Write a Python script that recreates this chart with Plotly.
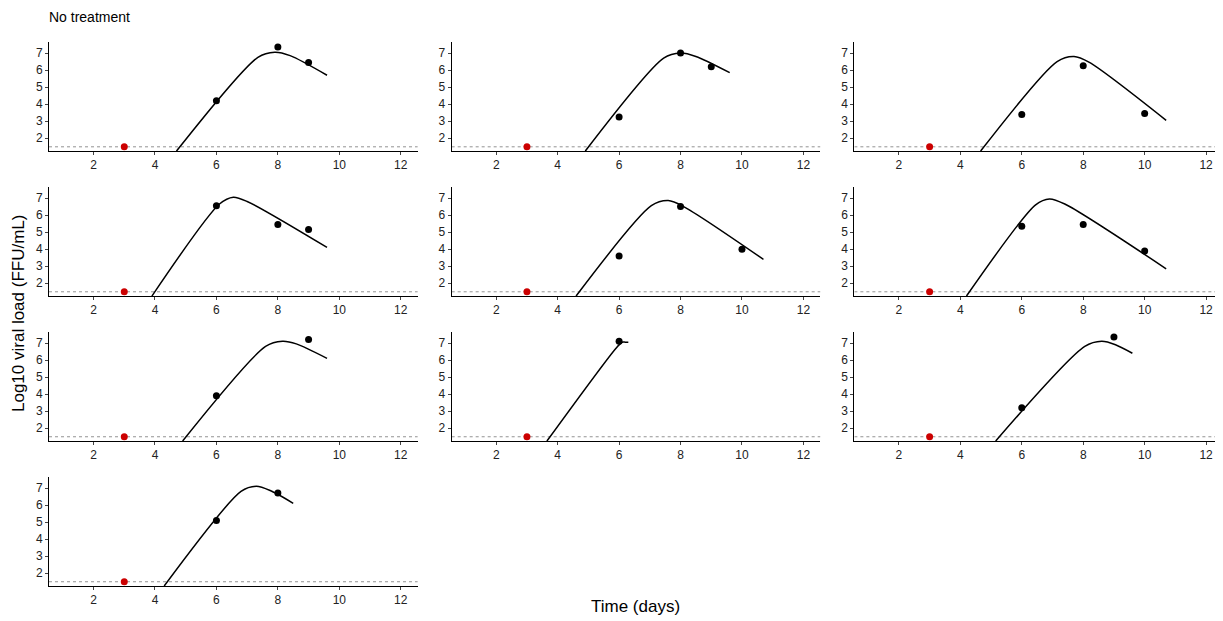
import plotly.graph_objects as go
from plotly.subplots import make_subplots

# observed data per animal (day, log10 load)
obs_x = [[6, 8, 9], [6, 8, 9], [6, 8, 10], [6, 8, 9], [6, 8, 10],
         [6, 8, 10], [6, 9], [6], [6, 9], [6, 8]]
obs_y = [[4.2, 7.35, 6.45], [3.25, 7.0, 6.2], [3.4, 6.25, 3.45], [6.55, 5.45, 5.15],
         [3.6, 6.5, 4.0], [5.35, 5.45, 3.9], [3.9, 7.2], [7.1], [3.2, 7.35], [5.1, 6.7]]
# censored (below detection) point
cens_x = 3
lod = 1.5

# fitted curves: start, pre-peak, peak, post-peak, end
fit_x = [[4.7, 7.35, 7.9, 8.4, 9.6], [4.9, 7.45, 8.0, 8.5, 9.6], [4.66, 7.15, 7.7, 8.2, 10.7],
         [3.9, 6.1, 6.55, 7.0, 9.6], [4.6, 7.05, 7.6, 8.1, 10.7], [4.2, 6.45, 6.9, 7.4, 10.7],
         [4.9, 7.6, 8.15, 8.6, 9.6], [3.65, 5.9, 6.1, 6.2, 6.3], [5.15, 8.05, 8.6, 9.05, 9.6],
         [4.3, 6.8, 7.3, 7.75, 8.5]]
fit_y = [[1.25, 6.75, 7.05, 6.85, 5.7], [1.25, 6.7, 7.0, 6.8, 5.85], [1.25, 6.5, 6.8, 6.45, 3.05],
         [1.25, 6.65, 7.05, 6.8, 4.1], [1.25, 6.55, 6.85, 6.5, 3.4], [1.25, 6.6, 6.95, 6.65, 2.85],
         [1.25, 6.8, 7.1, 6.95, 6.1], [1.25, 6.7, 7.05, 7.05, 7.05], [1.25, 6.8, 7.1, 6.9, 6.4],
         [1.25, 6.8, 7.1, 6.85, 6.1]]

x_ticks = [2, 4, 6, 8, 10, 12]
y_ticks = [2, 3, 4, 5, 6, 7]

fig = make_subplots(rows=4, cols=3, horizontal_spacing=0.029, vertical_spacing=0.066)

for i in range(12):
    r, c = i // 3 + 1, i % 3 + 1
    if i >= len(obs_x):
        fig.update_xaxes(visible=False, row=r, col=c)
        fig.update_yaxes(visible=False, row=r, col=c)
        continue
    fig.add_trace(go.Scatter(x=[0.55, 12.6], y=[lod, lod], mode='lines',
                             line=dict(color='#777', width=0.8, dash='dot')), row=r, col=c)
    fig.add_trace(go.Scatter(x=fit_x[i], y=fit_y[i], mode='lines',
                             line=dict(color='black', width=1.5, shape='spline', smoothing=0.8)),
                  row=r, col=c)
    fig.add_trace(go.Scatter(x=obs_x[i], y=obs_y[i], mode='markers',
                             marker=dict(color='black', size=7)), row=r, col=c)
    fig.add_trace(go.Scatter(x=[cens_x], y=[lod], mode='markers',
                             marker=dict(color='#cc0000', size=7)), row=r, col=c)
    fig.update_xaxes(range=[0.55, 12.55], tickvals=x_ticks, showline=True, linecolor='black',
                     ticks='outside', ticklen=3, showgrid=False, zeroline=False,
                     tickfont=dict(size=12, color='#222'), row=r, col=c)
    fig.update_yaxes(range=[1.25, 7.65], tickvals=y_ticks, showline=True, linecolor='black',
                     ticks='outside', ticklen=3, showgrid=False, zeroline=False,
                     tickfont=dict(size=12, color='#222'), row=r, col=c)

# page body has an 8px margin, so the figure is offset by 8px; margins compensate
fig.add_annotation(text='No treatment', x=-2/1174, y=1 + 25 / 544, xref='paper', yref='paper',
                   showarrow=False, xanchor='left', yanchor='middle',
                   font=dict(size=14, color='black'))
fig.add_annotation(text='Log10 viral load (FFU/mL)', textangle=-90, x=-31/1174, y=0.5,
                   xref='paper', yref='paper', showarrow=False, xanchor='center',
                   font=dict(size=17, color='black'))
fig.add_annotation(text='Time (days)', x=(635 - 49) / 1174, y=-20/544, xref='paper', yref='paper',
                   showarrow=False, yanchor='middle', font=dict(size=17, color='black'))

fig.update_layout(width=1215, height=613, showlegend=False, plot_bgcolor='white',
                  paper_bgcolor='white', margin=dict(l=41, r=0, t=34, b=35),
                  font=dict(family='Liberation Sans'))

fig.write_html('out.html')
